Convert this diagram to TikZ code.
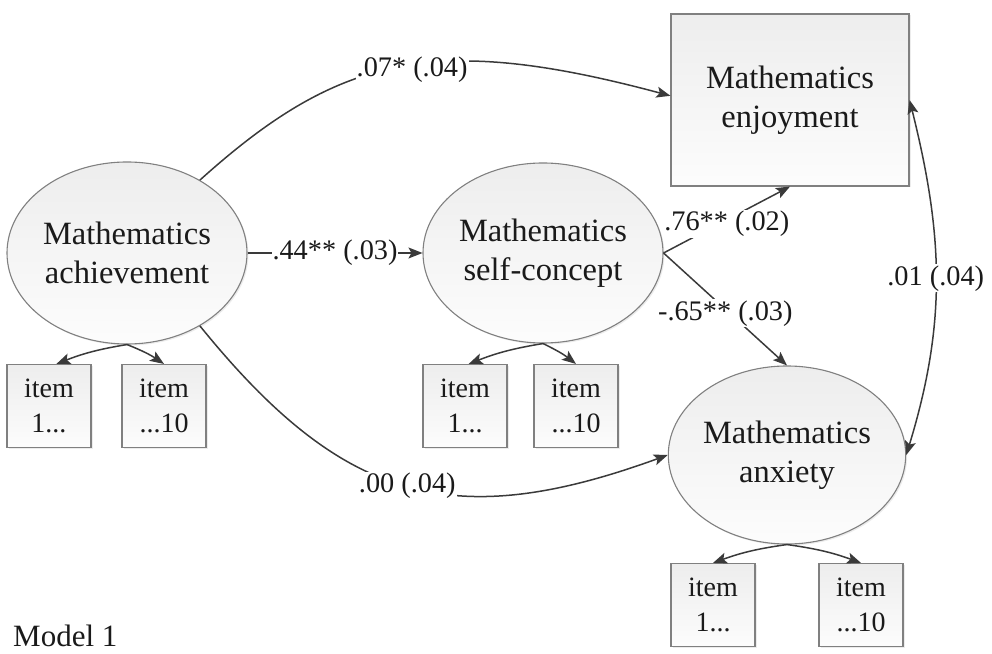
\documentclass[tikz,border=0pt]{standalone}
\usepackage{fontspec}
\setmainfont{Liberation Serif}
\usetikzlibrary{shapes.geometric,arrows.meta,shadows}
\definecolor{txt}{HTML}{1A1A1A}
\definecolor{edgec}{HTML}{808080}
\definecolor{conn}{HTML}{3A3A3A}
\begin{document}
\begin{tikzpicture}[x=1pt,y=1pt,
  >={Stealth[length=14pt,width=11pt,inset=3pt]},
  shade box/.style={draw=edgec, line width=1.1pt, top color=black!7, bottom color=black!1,
    drop shadow={shadow xshift=1.5pt,shadow yshift=-1.5pt,opacity=0.15,fill=black!50}},
  latent/.style={shade box, ellipse, inner sep=0pt, align=center, text=txt,
    font=\fontsize{32.5}{39}\selectfont},
  obsbox/.style={shade box, rectangle, inner sep=0pt, align=center, text=txt,
    font=\fontsize{32.5}{39}\selectfont},
  itembox/.style={shade box, rectangle, inner sep=0pt, align=center, text=txt,
    minimum width=84pt, minimum height=83pt, font=\fontsize{28}{35}\selectfont},
  arr/.style={draw=conn, line width=1.5pt, ->},
  darr/.style={draw=conn, line width=1.5pt, <->},
  lab/.style={fill=white, inner sep=1pt, text=txt, font=\fontsize{28.3}{34}\selectfont}]
\useasboundingbox (0,0) rectangle (992,653);

% main constructs
\node[latent, minimum width=240pt, minimum height=182pt] (ach) at (127,400) {Mathematics\\achievement};
\node[latent, minimum width=240pt, minimum height=180pt] (sc) at (543,400) {Mathematics\\self-concept};
\node[obsbox, minimum width=238pt, minimum height=172pt] (enj) at (790,553) {Mathematics\\enjoyment};
\node[latent, minimum width=232pt, minimum height=178pt] (anx) at (787,198) {Mathematics\\anxiety};

% items
\node[itembox] (a1) at (49,247) {item\\1...};
\node[itembox] (a2) at (164,247) {item\\...10};
\node[itembox] (s1) at (465,247) {item\\1...};
\node[itembox] (s2) at (576,247) {item\\...10};
\node[itembox] (x1) at (713,48) {item\\1...};
\node[itembox] (x2) at (861,48) {item\\...10};

% item arrows
\draw[arr] (ach.south) to[bend right=6] (a1.80);
\draw[arr] (ach.south) to[bend left=6] (a2.north);
\draw[arr] (sc.south) to[bend right=6] (s1.85);
\draw[arr] (sc.south) to[bend left=6] (s2.north);
\draw[arr] (anx.south) to[bend right=6] (x1.north);
\draw[arr] (anx.south) to[bend left=6] (x2.north);

% structural paths
\draw[arr] (ach.45) to[out=42,in=165,out looseness=1,in looseness=1.3]
  node[lab,pos=0.53,yshift=-4pt] {.07* (.04)} (enj.178);
\draw[arr] (ach.east) -- node[lab] {.44** (.03)} (sc.west);
\draw[arr] (sc.east) -- node[lab,yshift=-4pt] {.76** (.02)} (enj.south);
\draw[arr] (sc.east) -- node[lab,yshift=-4pt] {-.65** (.03)} (anx.north);
\draw[arr] (ach.-45) to[out=-51,in=200,looseness=1.2]
  node[lab] {.00 (.04)} (anx.west);
\draw[darr] (enj.east) to[out=-76,in=73]
  node[lab] {.01 (.04)} (anx.east);

% caption
\node[anchor=base west, inner sep=0pt, text=txt, font=\fontsize{31}{36}\selectfont] (model) at (13,7) {Model 1};
\end{tikzpicture}
\end{document}
